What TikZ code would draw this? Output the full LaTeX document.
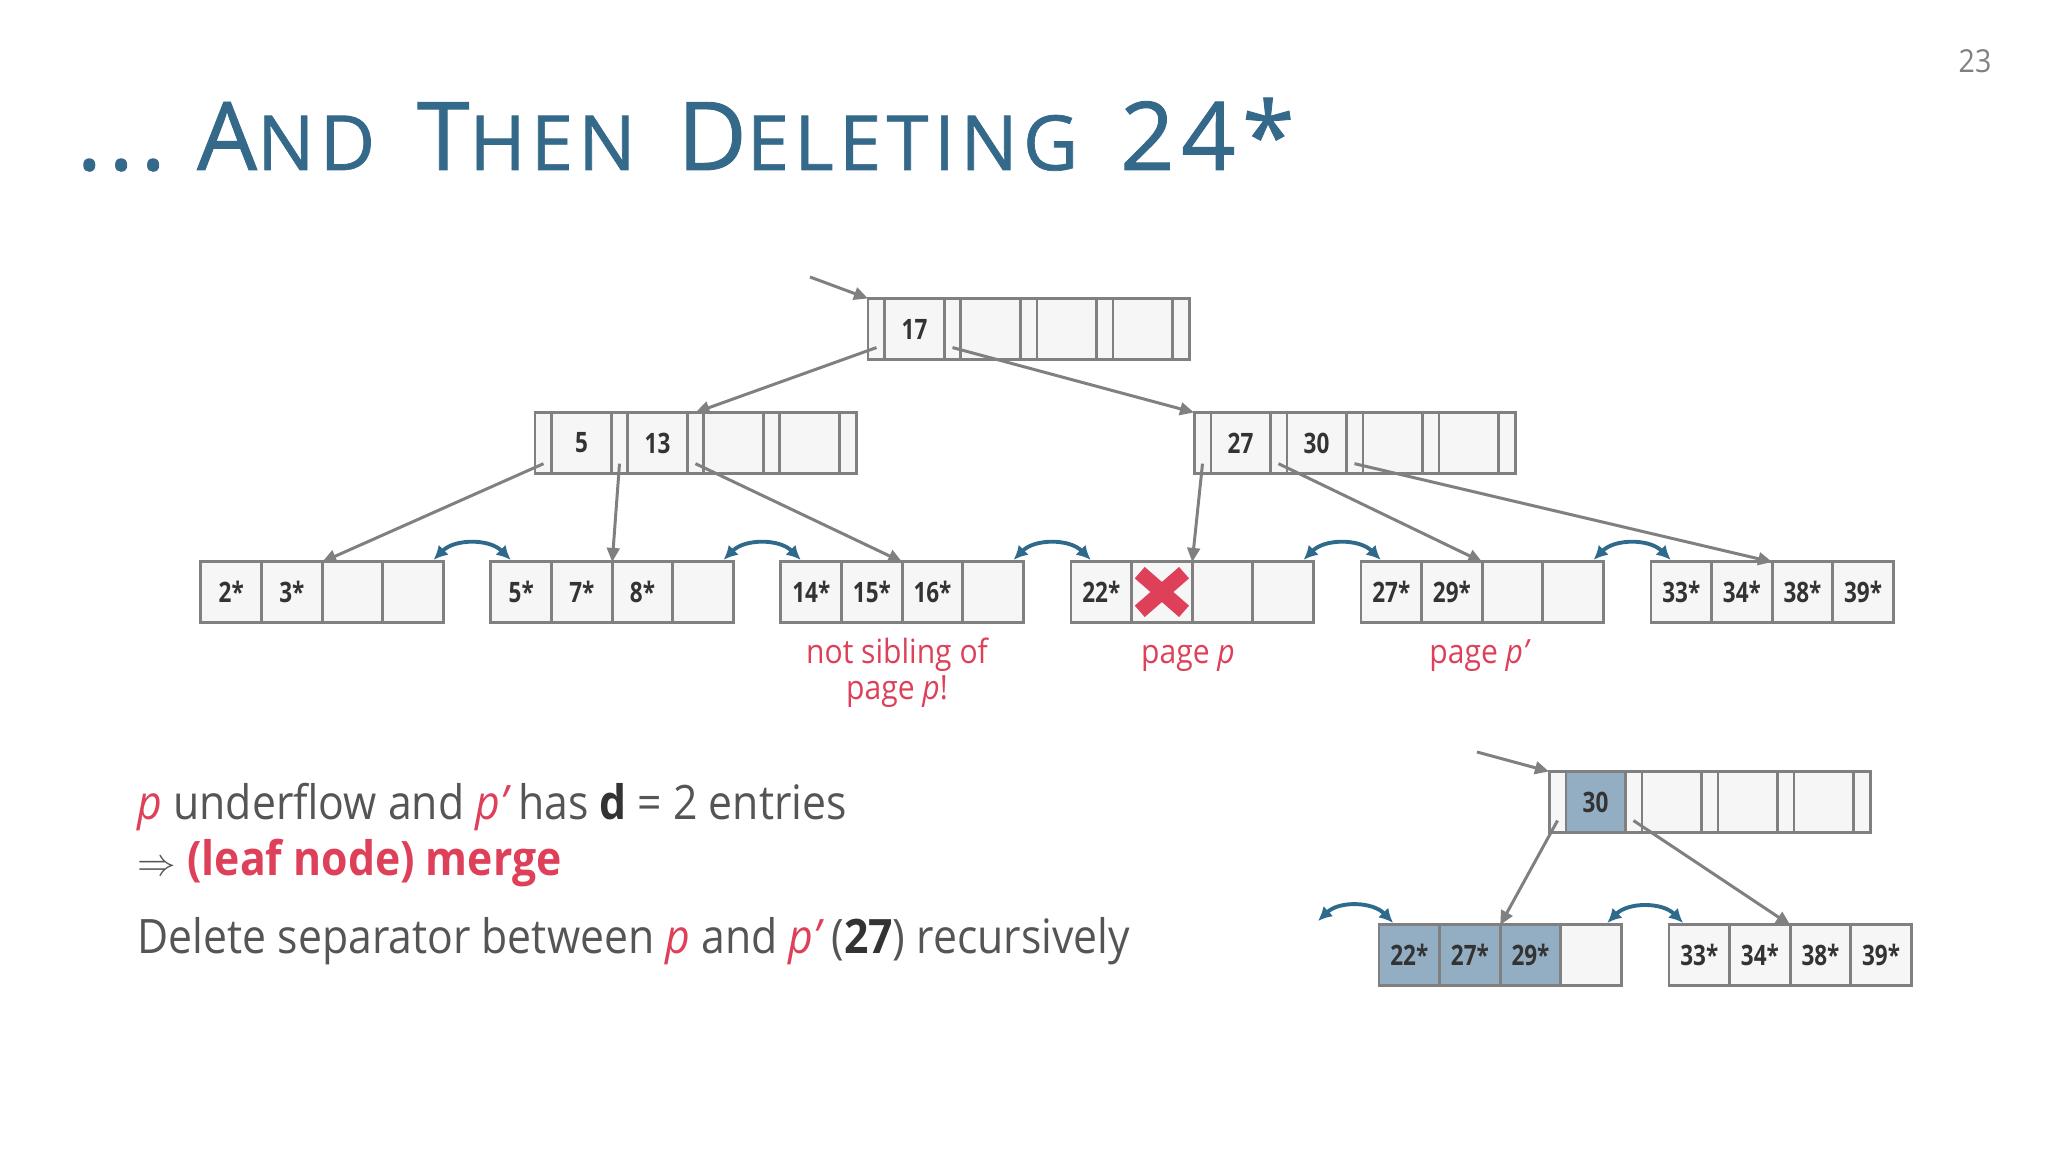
\documentclass[tikz,border=0pt]{standalone}
\usepackage{fontspec}
\setmainfont{Open Sans}[FakeStretch=0.9]
\newfontfamily\keyfont{Open Sans}[FakeStretch=0.8]
\newfontfamily\titlefont{Open Sans}[LetterSpace=7,FakeBold=0.9]
\usetikzlibrary{arrows.meta,positioning}
\definecolor{titleblue}{HTML}{35698A}
\definecolor{bodygray}{HTML}{555555}
\definecolor{keygray}{HTML}{333333}
\definecolor{boxgray}{HTML}{808080}
\definecolor{boxfill}{HTML}{F6F6F6}
\definecolor{hotred}{HTML}{DD4058}
\definecolor{sibblue}{HTML}{2E6A8C}
\definecolor{mergefill}{HTML}{93AEC2}
\newcommand\tcap[2]{{\fontsize{27pt}{30pt}\selectfont #1}{\fontsize{21.6pt}{24pt}\selectfont #2}}
\begin{document}
\begin{tikzpicture}[x=0.01cm,y=-0.01cm,line cap=butt,
  cell/.style={draw=boxgray,fill=boxfill,line width=.85pt,inner sep=0pt,outer sep=0pt,
    minimum height=.61cm,font=\keyfont\fontsize{8}{9}\selectfont\bfseries,text=keygray},
  pcell/.style={cell,minimum width=.17cm},
  kcell/.style={cell,minimum width=.59cm},
  lcell/.style={cell,minimum width=.606cm,minimum height=.60cm},
  ptr/.style={draw=boxgray,line width=.85pt,-{Triangle[length=4pt,width=3.6pt]}},
  sib/.style={draw=sibblue,line width=1.1pt,{Latex[length=4pt,width=4pt]}-{Latex[length=4pt,width=4pt]},bend left=45},
  lbl/.style={text=hotred,font=\fontsize{9.5}{10.2}\selectfont,align=center,inner sep=0pt},
  body/.style={anchor=base west,text=bodygray,inner sep=0pt,font=\fontsize{13.5}{16}\selectfont}]
  \useasboundingbox[fill=white] (0,0) rectangle (2048,1152);
  % title and page number
  \node[anchor=base west,text=titleblue,inner sep=0pt,font=\titlefont\fontsize{27pt}{30pt}\selectfont] (title) at (76,170)
    {\tcap{...\ A}{ND}\hspace{3pt} \tcap{T}{HEN}\hspace{3pt} \tcap{D}{ELETING}\hspace{3pt} \tcap{24*}{}};
  \node[text=boxgray,font=\fontsize{9}{10}\selectfont] (pnum) at (1975,61) {23};
  % root
  \foreach \j in {0,...,4} \node[pcell] (r-p\j) at (876.5+76*\j,329) {};
  \foreach \t [count=\j] in {17,{},{},{}} \node[kcell] (r-k\j) at (838.5+76*\j,329) {\t};
  % inner nodes
  \foreach \j in {0,...,4} \node[pcell] (a-p\j) at (543.5+76*\j,443) {};
  \foreach \t [count=\j] in {5,13,{},{}} \node[kcell] (a-k\j) at (505.5+76*\j,443) {\t};
  \foreach \j in {0,...,4} \node[pcell] (b-p\j) at (1202.5+76*\j,443) {};
  \foreach \t [count=\j] in {27,30,{},{}} \node[kcell] (b-k\j) at (1164.5+76*\j,443) {\t};
  % leaves
  \foreach \t [count=\j] in {2*,3*,{},{}} \node[lcell] (l1-\j) at (170.7+60.6*\j,592) {\t};
  \foreach \t [count=\j] in {5*,7*,8*,{}} \node[lcell] (l2-\j) at (460.7+60.6*\j,592) {\t};
  \foreach \t [count=\j] in {14*,15*,16*,{}} \node[lcell] (l3-\j) at (750.7+60.6*\j,592) {\t};
  \foreach \t [count=\j] in {22*,{},{},{}} \node[lcell] (l4-\j) at (1040.7+60.6*\j,592) {\t};
  \foreach \t [count=\j] in {27*,29*,{},{}} \node[lcell] (l5-\j) at (1330.7+60.6*\j,592) {\t};
  \foreach \t [count=\j] in {33*,34*,38*,39*} \node[lcell] (l6-\j) at (1620.7+60.6*\j,592) {\t};
  % pointers
  \coordinate (rin) at (810,277);
  \draw[ptr] (rin) -- (r-p0.north west);
  \draw[ptr] ([yshift=3.4pt]r-p0.south) -- (a-p2.north);
  \draw[ptr] ([yshift=3.4pt]r-p1.south) -- (b-p0.north west);
  \draw[ptr] ([yshift=2.8pt]a-p0.south) -- (l1-2.north east);
  \draw[ptr] ([yshift=2.8pt]a-p1.south) -- (l2-2.north east);
  \draw[ptr] ([yshift=2.8pt]a-p2.south) -- (l3-2.north east);
  \draw[ptr] ([yshift=2.8pt]b-p0.south) -- (l4-2.north east);
  \draw[ptr] ([yshift=2.8pt]b-p1.south) -- (l5-2.north east);
  \draw[ptr] ([yshift=2.8pt]b-p2.south) -- (l6-2.north east);
  % sibling links
  \draw[sib] ([shift={(-2.8pt,.6pt)}]l1-4.north east) to ([shift={(5.6pt,.6pt)}]l2-1.north west);
  \draw[sib] ([shift={(-2.8pt,.6pt)}]l2-4.north east) to ([shift={(5.6pt,.6pt)}]l3-1.north west);
  \draw[sib] ([shift={(-2.8pt,.6pt)}]l3-4.north east) to ([shift={(5.6pt,.6pt)}]l4-1.north west);
  \draw[sib] ([shift={(-2.8pt,.6pt)}]l4-4.north east) to ([shift={(5.6pt,.6pt)}]l5-1.north west);
  \draw[sib] ([shift={(-2.8pt,.6pt)}]l5-4.north east) to ([shift={(5.6pt,.6pt)}]l6-1.north west);
  % deleted entry
  \draw[hotred,line width=4.3pt] ([shift={(-6.3pt,5.5pt)}]l4-2.center) -- ([shift={(6.3pt,-5.5pt)}]l4-2.center)
    ([shift={(-6.3pt,-5.5pt)}]l4-2.center) -- ([shift={(6.3pt,5.5pt)}]l4-2.center);
  % labels
  \node[lbl,anchor=base] (nsib) at (897,699) {not sibling of\\page \textit{p}!};
  \node[lbl,anchor=base] (pgp) at (1188,663) {page \textit{p}};
  \node[lbl,anchor=base] (pgq) at (1480,663) {page \textit{p’}};
  % text
  \node[body] (t1) at (137,819) {{\color{hotred}\itshape p} underflow and {\color{hotred}\itshape p’} has {\color{keygray}\bfseries d} = 2 entries};
  \node[body] (t2) at (137,875) {{\fontsize{10.5}{12}\selectfont$\Rightarrow$} {\color{hotred}\bfseries (leaf node) merge}};
  \node[body] (t3) at (137,953) {Delete separator between {\color{hotred}\itshape p} and {\color{hotred}\itshape p’} ({\color{keygray}\bfseries 27}) recursively};
  % after the merge
  \foreach \j in {0,...,4} \node[pcell] (c-p\j) at (1557.5+76*\j,802) {};
  \foreach \t/\f [count=\j] in {30/mergefill,{}/boxfill,{}/boxfill,{}/boxfill} \node[kcell,fill=\f] (c-k\j) at (1519.5+76*\j,802) {\t};
  \foreach \t/\f [count=\j] in {22*/mergefill,27*/mergefill,29*/mergefill,{}/boxfill} \node[lcell,fill=\f] (m-\j) at (1348.7+60.6*\j,955) {\t};
  \foreach \t [count=\j] in {33*,34*,38*,39*} \node[lcell] (n-\j) at (1638.7+60.6*\j,955) {\t};
  \coordinate (cin) at (1477,752);
  \draw[ptr] (cin) -- (c-p0.north west);
  \draw[ptr] ([yshift=3.4pt]c-p0.south) -- (m-2.north east);
  \draw[ptr] ([yshift=3.4pt]c-p1.south) -- (n-2.north east);
  \coordinate (mprev) at (1318,921);
  \draw[sib] (mprev) to ([shift={(4pt,.6pt)}]m-1.north west);
  \draw[sib] ([shift={(-4pt,.6pt)}]m-4.north east) to ([shift={(4pt,.6pt)}]n-1.north west);
\end{tikzpicture}
\end{document}
